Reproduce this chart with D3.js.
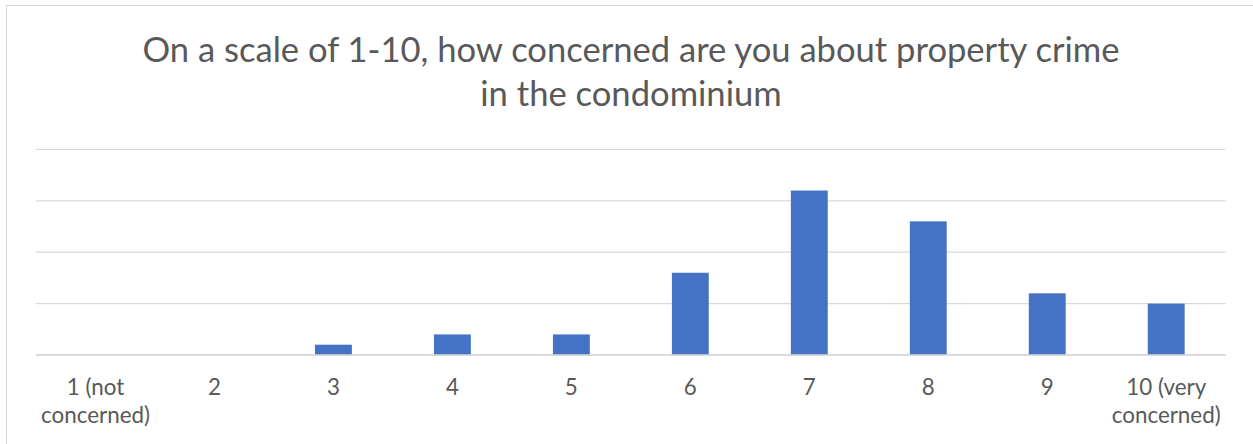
<!DOCTYPE html>
<html>
<head>
<meta charset="utf-8">
<script src="https://cdn.jsdelivr.net/npm/d3@7"></script>
<style>
  html, body { margin: 0; padding: 0; background: #fff; }
  svg { display: block; }
  text { font-family: Lato, "Open Sans", sans-serif; fill: #595959; }
</style>
</head>
<body>
<svg id="chart" width="1253" height="444"></svg>
<script>
const titleLines = ["On a scale of 1-10, how concerned are you about property crime", "in the condominium"];
const categories = ["1 (not concerned)", "2", "3", "4", "5", "6", "7", "8", "9", "10 (very concerned)"];
const categoryLines = [["1 (not", "concerned)"], ["2"], ["3"], ["4"], ["5"], ["6"], ["7"], ["8"], ["9"], ["10 (very", "concerned)"]];
const values = [0, 0, 1, 2, 2, 8, 16, 13, 6, 5];
const yTicks = [0, 5, 10, 15, 20];

const svg = d3.select("#chart");
const W = 1253, H = 444;
const margin = { left: 36, right: 27.3, top: 149.4, bottom: 89 };

// chart border
svg.append("rect")
  .attr("x", 6.5).attr("y", 5.5)
  .attr("width", W + 10).attr("height", H + 10)
  .attr("fill", "none").attr("stroke", "#d9d9d9").attr("stroke-width", 1);

const x = d3.scaleBand()
  .domain(categories)
  .range([margin.left, W - margin.right])
  .paddingInner(0.69).paddingOuter(0.345);

const y = d3.scaleLinear()
  .domain([0, 20])
  .range([H - margin.bottom, margin.top]);

// gridlines
svg.append("g").selectAll("line").data(yTicks).join("line")
  .attr("x1", margin.left).attr("x2", W - margin.right)
  .attr("y1", d => y(d)).attr("y2", d => y(d))
  .attr("stroke", "#d9d9d9").attr("stroke-width", 1.3);

// bars
svg.append("g").selectAll("rect").data(values).join("rect")
  .attr("x", (d, i) => x(categories[i]))
  .attr("width", x.bandwidth())
  .attr("y", d => y(d))
  .attr("height", d => y(0) - y(d))
  .attr("fill", "#4472c4");

// baseline redraw
svg.append("line")
  .attr("x1", margin.left).attr("x2", W - margin.right)
  .attr("y1", y(0)).attr("y2", y(0))
  .attr("stroke", "#d9d9d9").attr("stroke-width", 1.3);

// x axis labels
const xAxis = d3.axisBottom(x).tickSize(0).tickFormat("");
const gx = svg.append("g").attr("transform", `translate(0,${y(0)})`).call(xAxis);
gx.select(".domain").remove();
gx.selectAll(".tick").each(function(d, i) {
  const t = d3.select(this).append("text")
    .attr("text-anchor", "middle")
    .style("font-size", "22.4px")
    .attr("fill", "#595959");
  categoryLines[i].forEach((line, j) => {
    t.append("tspan").attr("x", 0).attr("y", 40 + j * 28).text(line);
  });
});

// title
const title = svg.append("text")
  .attr("text-anchor", "middle")
  .style("font-size", "34.6px");
titleLines.forEach((line, j) => {
  title.append("tspan").attr("x", 631).attr("y", 62 + j * 43.5).text(line);
});
</script>
</body>
</html>
